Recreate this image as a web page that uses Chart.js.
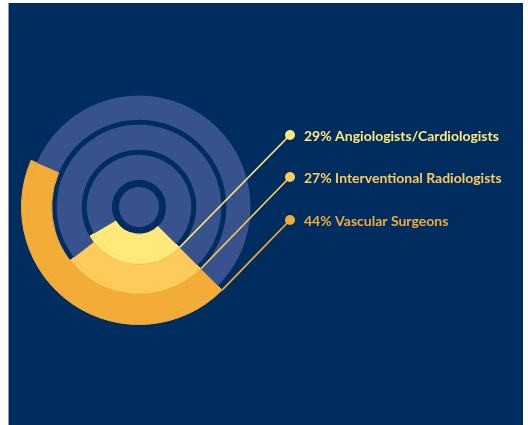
<!DOCTYPE html>
<html>
<head>
<meta charset="utf-8">
<script src="https://cdn.jsdelivr.net/npm/chart.js@4"></script>
<style>
  html, body { margin: 0; padding: 0; background: #fff; }
  #frame { position: absolute; left: 8px; top: 3px; width: 514px; height: 422px; background: #002D5F; border-left: 1px solid #8a9bb5; }
  #wrap { position: absolute; left: 0; top: 0; width: 528px; height: 425px; }
</style>
</head>
<body>
<div id="frame"></div>
<div id="wrap"><canvas id="ringChart" width="528" height="425"></canvas></div>
<script>
const labels = ["Angiologists/Cardiologists", "Interventional Radiologists", "Vascular Surgeons"];
const shares = [29, 27, 44];
const colors = ["#FFE978", "#FCCB5B", "#F3AC37"];

const track = "#38528D";
const navy = "#002D5F";

// rings from outside in: vascular (44), interventional (27), angio (29)
function ring(i, weight, rest) {
  return {
    data: [shares[i], 100 - shares[i]],
    backgroundColor: [colors[i], rest],
    borderColor: [colors[i], "transparent"],
    borderWidth: [1, 0],
    weight: weight,
    hoverOffset: 0,
    labelIndex: i
  };
}

const datasets = [
  ring(2, 6, "transparent"),
  ring(2, 24, track),
  ring(1, 5, "transparent"),
  ring(1, 25, track),
  ring(0, 5, "transparent"),
  ring(0, 25, track),
  { data: [100], backgroundColor: ["transparent"], weight: 7, borderWidth: 0, hoverOffset: 0 },
  { data: [100], backgroundColor: [track], weight: 20, borderWidth: 0, hoverOffset: 0 }
];

// leader lines + labels, taken from outer edge of each coloured arc
const calloutPlugin = {
  id: "callouts",
  afterDraw(chart) {
    const ctx = chart.ctx;
    const outerSets = [4, 2, 0]; // outermost dataset of each coloured ring (angio, interventional, vascular)
    const dotX = 290;
    const rowY = [135, 177, 220];
    ctx.save();
    ctx.font = "bold 14px Lato";
    ctx.textBaseline = "middle";
    outerSets.forEach((dsIdx, k) => {
      const arc = chart.getDatasetMeta(dsIdx).data[0];
      const a = arc.startAngle;
      const ex = arc.x + Math.cos(a) * arc.outerRadius;
      const ey = arc.y + Math.sin(a) * arc.outerRadius;
      ctx.strokeStyle = colors[k];
      ctx.fillStyle = colors[k];
      ctx.lineWidth = 1.7;
      ctx.beginPath();
      ctx.moveTo(ex, ey);
      ctx.lineTo(dotX, rowY[k]);
      ctx.stroke();
      ctx.beginPath();
      ctx.arc(dotX, rowY[k], 5, 0, Math.PI * 2);
      ctx.fill();
      ctx.fillText(shares[k] + "% " + labels[k], dotX + 14, rowY[k] + 1);
    });
    ctx.restore();
  }
};

new Chart(document.getElementById("ringChart").getContext("2d"), {
  type: "doughnut",
  data: { labels: ["share", "rest"], datasets: datasets },
  options: {
    responsive: false,
    animation: false,
    events: [],
    rotation: 135,
    cutout: 0,
    layout: { padding: { left: 21, right: 271, top: 89, bottom: 100 } },
    plugins: {
      legend: { display: false },
      tooltip: { enabled: false }
    }
  },
  plugins: [calloutPlugin]
});
</script>
</body>
</html>
